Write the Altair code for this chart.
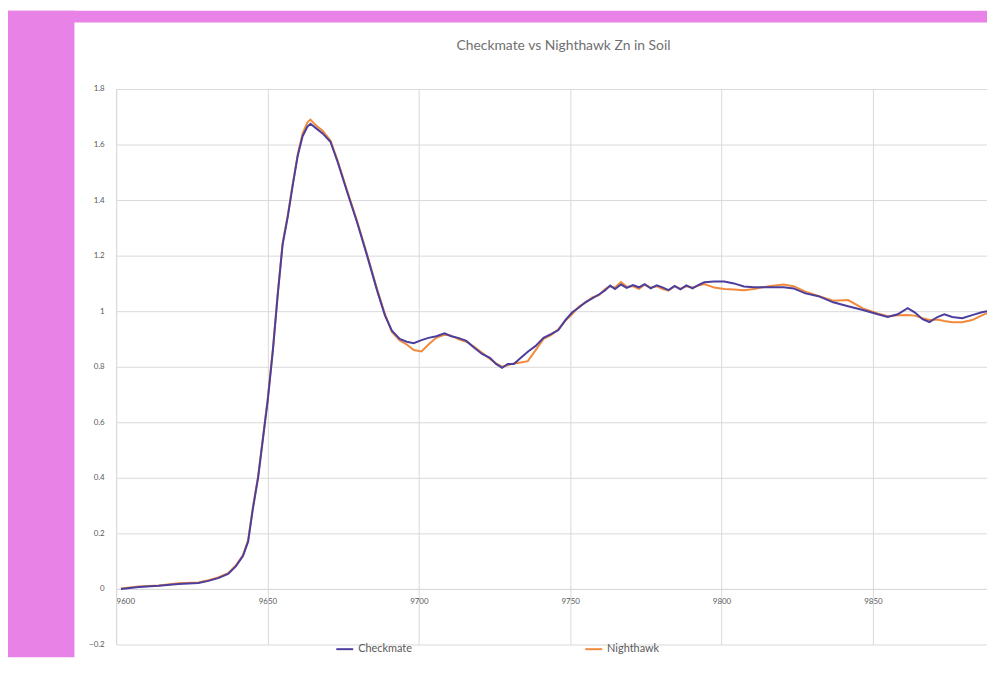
import altair as alt
import pandas as pd

# ---- data (energy in eV, normalised absorption) ----
cm_energy = [9601.6, 9607.5, 9614.1, 9620.6, 9627.2, 9630.5, 9633.7, 9637.0, 9639.6, 9641.9,
             9643.6, 9645.2, 9646.9, 9648.5, 9650.1, 9651.8, 9653.4, 9655.0, 9656.7, 9658.3,
             9660.0, 9661.6, 9663.2, 9664.2, 9665.9, 9668.2, 9670.8, 9673.1, 9676.3, 9679.6,
             9682.9, 9686.2, 9688.8, 9691.1, 9693.7, 9696.0, 9698.3, 9700.9, 9703.2, 9705.8,
             9708.5, 9710.7, 9713.0, 9715.7, 9718.3, 9720.9, 9723.5, 9725.5, 9727.5, 9729.4,
             9731.4, 9733.7, 9736.0, 9738.6, 9741.2, 9743.8, 9746.1, 9748.4, 9750.7, 9753.0,
             9755.0, 9757.3, 9759.6, 9761.5, 9763.2, 9764.8, 9766.8, 9768.7, 9770.7, 9772.7,
             9774.6, 9776.6, 9778.6, 9780.5, 9782.5, 9784.5, 9786.4, 9788.4, 9790.4, 9792.3,
             9794.3, 9797.6, 9800.9, 9804.1, 9807.4, 9810.7, 9815.6, 9820.5, 9823.8, 9827.7,
             9832.0, 9836.9, 9841.8, 9846.7, 9851.6, 9854.9, 9858.2, 9861.5, 9863.8, 9866.4,
             9868.7, 9871.3, 9873.6, 9876.2, 9879.5, 9882.8, 9886.0, 9889.3, 9892.6]
cm_value = [0.000, 0.007, 0.011, 0.018, 0.021, 0.029, 0.039, 0.054, 0.082, 0.118,
            0.170, 0.290, 0.400, 0.540, 0.680, 0.860, 1.060, 1.240, 1.340, 1.450,
            1.560, 1.630, 1.665, 1.675, 1.660, 1.640, 1.610, 1.540, 1.430, 1.320,
            1.200, 1.075, 0.985, 0.930, 0.900, 0.890, 0.885, 0.896, 0.904, 0.910,
            0.920, 0.910, 0.904, 0.893, 0.868, 0.846, 0.832, 0.810, 0.796, 0.810,
            0.810, 0.832, 0.854, 0.875, 0.904, 0.918, 0.932, 0.968, 0.996, 1.014,
            1.032, 1.046, 1.061, 1.075, 1.092, 1.080, 1.096, 1.084, 1.094, 1.086,
            1.097, 1.082, 1.093, 1.086, 1.076, 1.091, 1.079, 1.093, 1.082, 1.094,
            1.104, 1.107, 1.107, 1.100, 1.089, 1.086, 1.086, 1.086, 1.082, 1.064,
            1.054, 1.032, 1.018, 1.004, 0.989, 0.979, 0.989, 1.011, 0.996, 0.971,
            0.961, 0.979, 0.989, 0.979, 0.975, 0.986, 0.996, 1.004, 1.007]

nh_energy = [9601.6, 9607.5, 9614.1, 9620.6, 9627.2, 9630.5, 9633.7, 9637.0, 9639.6, 9641.9,
             9643.6, 9645.2, 9646.9, 9648.5, 9650.1, 9651.8, 9653.4, 9655.0, 9656.7, 9658.3,
             9660.0, 9661.6, 9663.2, 9664.2, 9665.9, 9668.2, 9670.8, 9673.1, 9676.3, 9679.6,
             9682.9, 9686.2, 9688.8, 9691.1, 9693.7, 9696.0, 9698.3, 9700.9, 9703.2, 9705.8,
             9708.5, 9710.7, 9713.0, 9715.7, 9718.3, 9720.9, 9723.5, 9725.5, 9727.5, 9729.4,
             9731.4, 9733.7, 9736.0, 9738.6, 9741.2, 9743.8, 9746.1, 9748.4, 9750.7, 9753.0,
             9755.0, 9757.3, 9759.6, 9761.5, 9763.2, 9764.8, 9766.8, 9768.7, 9770.7, 9772.7,
             9774.6, 9776.6, 9778.6, 9780.5, 9782.5, 9784.5, 9786.4, 9788.4, 9790.4, 9792.3,
             9794.3, 9797.6, 9800.9, 9804.1, 9807.4, 9810.7, 9815.6, 9820.5, 9823.8, 9827.7,
             9832.0, 9836.9, 9841.8, 9846.7, 9851.6, 9854.9, 9858.2, 9861.5, 9863.8, 9866.4,
             9868.7, 9871.3, 9873.6, 9876.2, 9879.5, 9882.8, 9886.0, 9889.3, 9892.6]
nh_value = [0.002, 0.009, 0.012, 0.020, 0.023, 0.031, 0.041, 0.057, 0.085, 0.122,
            0.175, 0.295, 0.405, 0.545, 0.685, 0.865, 1.065, 1.245, 1.345, 1.455,
            1.565, 1.640, 1.680, 1.690, 1.670, 1.650, 1.615, 1.545, 1.435, 1.325,
            1.205, 1.080, 0.990, 0.925, 0.895, 0.880, 0.860, 0.855, 0.880, 0.905,
            0.915, 0.912, 0.900, 0.890, 0.872, 0.850, 0.828, 0.812, 0.800, 0.805,
            0.812, 0.815, 0.820, 0.860, 0.900, 0.915, 0.935, 0.965, 0.990, 1.018,
            1.030, 1.050, 1.058, 1.080, 1.090, 1.085, 1.105, 1.088, 1.090, 1.080,
            1.095, 1.085, 1.090, 1.080, 1.075, 1.090, 1.080, 1.090, 1.085, 1.092,
            1.098, 1.085, 1.080, 1.078, 1.075, 1.080, 1.090, 1.096, 1.090, 1.070,
            1.055, 1.038, 1.040, 1.010, 0.992, 0.982, 0.985, 0.986, 0.984, 0.975,
            0.968, 0.970, 0.965, 0.960, 0.960, 0.968, 0.985, 1.000, 1.005]

series_names = ["Checkmate", "Nighthawk"]
series_colors = ["#4b3f9e", "#f28a3c"]
x_ticks = [9600, 9650, 9700, 9750, 9800, 9850]
y_ticks = [-0.2, 0, 0.2, 0.4, 0.6, 0.8, 1, 1.2, 1.4, 1.6, 1.8]
title_text = ["Checkmate vs Nighthawk Zn in Soil"]

PINK = "#e882e6"
FONT = "Lato"
GRID = "#d9d9d9"
TXT = "#595959"

df = pd.concat([
    pd.DataFrame({"energy": cm_energy, "value": cm_value, "series": series_names[0]}),
    pd.DataFrame({"energy": nh_energy, "value": nh_value, "series": series_names[1]}),
])

W, H = 878, 560

x_enc = alt.X("energy:Q",
              scale=alt.Scale(domain=[9600, 9887.7], nice=False, zero=False),
              axis=alt.Axis(values=x_ticks, format="d", title=None, offset=-56,
                            grid=True, gridColor=GRID, domainColor=GRID, ticks=False,
                            labelFontSize=8, labelColor=TXT, labelFont=FONT,
                            labelPadding=9))
y_enc = alt.Y("value:Q",
              scale=alt.Scale(domain=[-0.2, 1.8], nice=False),
              axis=alt.Axis(values=y_ticks, labelExpr="format(datum.value, '~g')",
                            title=None, grid=True, gridColor=GRID, domainColor=GRID,
                            ticks=False, labelFontSize=8, labelColor=TXT,
                            labelFont=FONT, labelPadding=12))
color_enc = alt.Color("series:N",
                      scale=alt.Scale(domain=series_names, range=series_colors),
                      legend=alt.Legend(orient="none", legendX=221, legendY=555,
                                        direction="horizontal", title=None,
                                        symbolType="stroke", symbolStrokeWidth=2,
                                        symbolSize=289, labelFontSize=11,
                                        labelColor=TXT, labelFont=FONT,
                                        columnPadding=170))

base = alt.Chart(df)
nh_line = base.transform_filter(alt.datum.series == "Nighthawk").mark_line(
    strokeWidth=2, clip=True).encode(x=x_enc, y=y_enc, color=color_enc)
cm_line = base.transform_filter(alt.datum.series == "Checkmate").mark_line(
    strokeWidth=2, clip=True).encode(x=x_enc, y=y_enc, color=color_enc)

one = pd.DataFrame({"k": [0]})
pink_left = alt.Chart(one).mark_rect(color=PINK, clip=False).encode(
    x=alt.value(-109), x2=alt.value(-42), y=alt.value(-79), y2=alt.value(H + 13))
pink_top = alt.Chart(one).mark_rect(color=PINK, clip=False).encode(
    x=alt.value(-109), x2=alt.value(W), y=alt.value(-79), y2=alt.value(-67))

title_mark = alt.Chart(pd.DataFrame({"t": title_text})).mark_text(
    font=FONT, fontSize=14, color="#707070", align="center", baseline="middle"
).encode(text="t:N", x=alt.value(451), y=alt.value(-43))

chart = alt.layer(pink_left, pink_top, title_mark, nh_line, cm_line).properties(
    width=W, height=H,
    autosize=alt.AutoSizeParams(type="none"),
    padding={"left": 109, "top": 79, "right": 0, "bottom": 13},
    background="white",
).configure_view(stroke=None)

chart.save("out.html", embed_options={"renderer": "svg", "actions": False})
